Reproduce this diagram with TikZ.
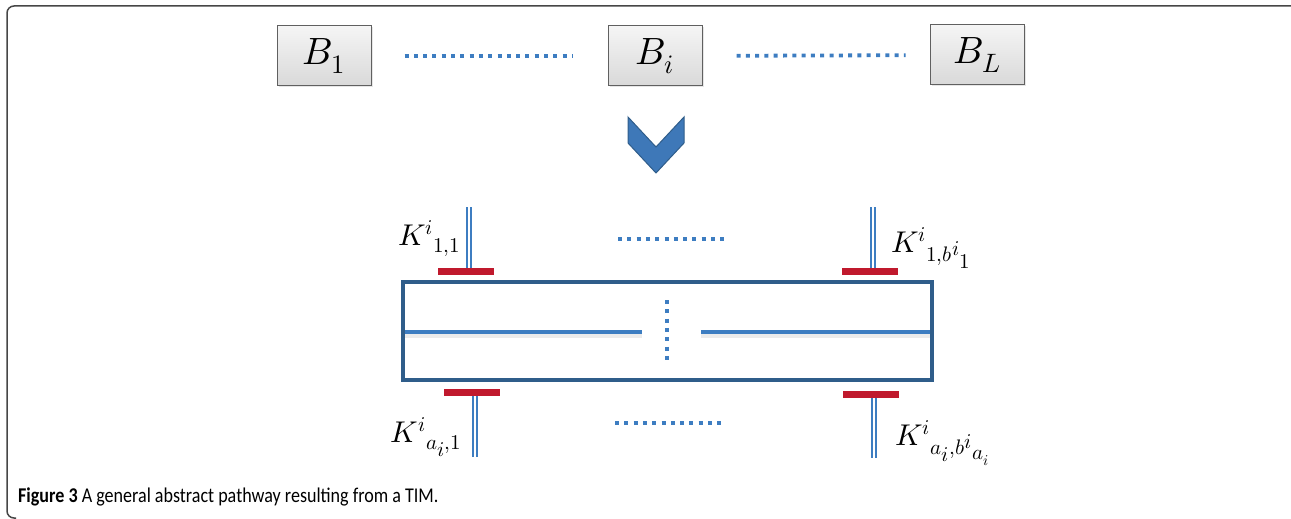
\documentclass[tikz,border=0pt]{standalone}
\usepackage{unicode-math}
\setmathfont{Latin Modern Math}
\newfontfamily\capfont{Carlito}
\usetikzlibrary{shadows}
\definecolor{kblue}{RGB}{61,125,193}
\definecolor{kdark}{RGB}{47,93,138}
\definecolor{kchev}{RGB}{62,120,184}
\definecolor{kred}{RGB}{192,25,45}
\definecolor{kframe}{RGB}{70,70,70}
\newcommand{\ks}[1]{{\scriptstyle #1}}
\tikzset{
  blockbox/.style={draw=gray!75!black, line width=1pt, top color=gray!8, bottom color=gray!30,
    minimum width=94pt, minimum height=60pt, inner sep=0pt,
    drop shadow={opacity=0.2, shadow xshift=1.5pt, shadow yshift=-1.5pt},
    font=\fontsize{38}{40}\selectfont},
  dotline/.style={kblue, line width=3.8pt, dash pattern=on 4pt off 5.3pt},
  midline/.style={kblue, line width=4pt},
  kbar/.style={kred, line width=7pt},
  kstem/.style={kblue, line width=1.6pt, double=white, double distance=2.2pt},
  klabel/.style={inner sep=0pt, font=\fontsize{30}{32}\selectfont}
}
\begin{document}
\begin{tikzpicture}[x=1pt,y=-1pt]
    \useasboundingbox (0,0) rectangle (1291,519);
    % frame
    \draw[kframe, line width=1.5pt, rounded corners=7pt] (1291,6) -- (7,6) -- (7,518) -- (16,518);
    % blocks
    \node[blockbox] (b1) at (324,56) {$B_1$};
    \node[blockbox] (bi) at (655,56) {$B_i$};
    \node[blockbox] (bl) at (977,55) {$B_L$};
    \draw[dotline, shorten <=33pt, shorten >=35pt] (b1) -- (bi);
    \draw[dotline, shorten <=34pt, shorten >=24pt] (bi) -- (bl);
    % chevron
    \draw[kdark, fill=kchev, line width=1pt, line join=miter]
        (628,117) -- (656,147) -- (684,117) -- (684,143) -- (656,173) -- (628,143) -- cycle;
    % pathway
    \draw[black, opacity=0.08, line width=4pt] (405,336) -- (642,336) (701,336) -- (932,336);
    \draw[midline] (403,332) -- (642,332);
    \draw[midline] (701,332) -- (932,332);
    \draw[kdark, line width=4pt] (403,282) rectangle (932,380);
    \draw[dotline] (667,300) -- (667,360);
    % inputs and outputs
    \coordinate (k11) at (469,271);
    \coordinate (k1b) at (873,271);
    \coordinate (ka1) at (475,392);
    \coordinate (kab) at (874,394);
    \draw[kstem] (k11) -- ++(0,-64);
    \draw[kstem] (k1b) -- ++(0,-64);
    \draw[kstem] (ka1) -- ++(0,65);
    \draw[kstem] (kab) -- ++(0,64);
    \draw[kbar] ([xshift=-31pt]k11) -- ([xshift=25pt]k11);
    \draw[kbar] ([xshift=-31pt]k1b) -- ([xshift=25pt]k1b);
    \draw[kbar] ([xshift=-31pt]ka1) -- ([xshift=25pt]ka1);
    \draw[kbar] ([xshift=-31pt]kab) -- ([xshift=25pt]kab);
    \draw[dotline] (618,239) -- (724,239);
    \draw[dotline] (615,423) -- (721,423);
    \node[klabel, anchor=base east] (l11) at (461,245) {$K^{i}{}_{1,1}$};
    \node[klabel, anchor=base west] (l1b) at (891,252) {$K^{i}{}_{1,b^{\ks{i}}{}_{\ks{1}}}$};
    \node[klabel, anchor=base east] (la1) at (462,442) {$K^{i}{}_{a_{\ks{i}},1}$};
    \node[klabel, anchor=base west] (lab) at (895,445) {$K^{i}{}_{a_{\ks{i}},b^{\ks{i}}{}_{\ks{a_{i}}}}$};
    % caption
    \node[anchor=base west, inner sep=0pt, font=\capfont\fontsize{21}{23}\selectfont] (cap) at (18,502)
        {\scalebox{0.86}[1]{\textbf{Figure 3} A general abstract pathway resulting from a TIM.}};
\end{tikzpicture}
\end{document}
